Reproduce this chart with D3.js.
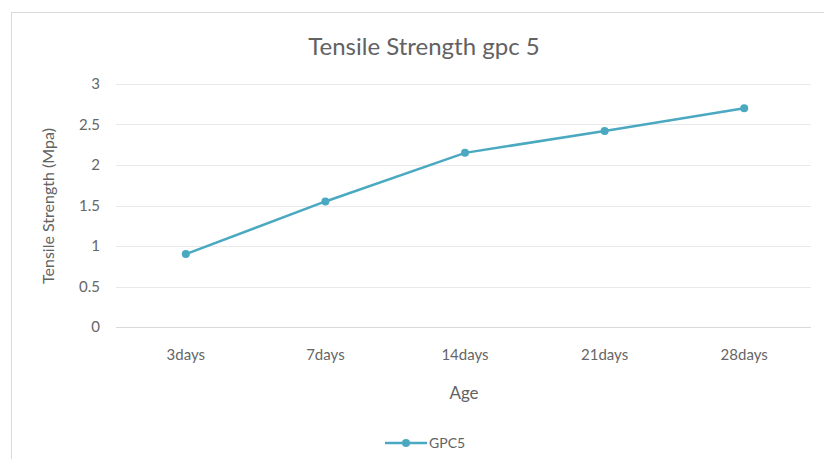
<!DOCTYPE html>
<meta charset="utf-8">
<style>
    body { margin: 0; background: #fff; }
    .tick-label { font-family: "Lato", "Open Sans", sans-serif; font-size: 15px; fill: #666; }
    .label { font-family: "Lato", "Open Sans", sans-serif; fill: #626262; }
</style>
<body></body>
<script src="https://d3js.org/d3.v7.min.js"></script>
<script>
    // chart data
    const ages = ["3days", "7days", "14days", "21days", "28days"];
    const gpc5 = [0.90, 1.55, 2.15, 2.42, 2.70];
    const yTicks = [0, 0.5, 1, 1.5, 2, 2.5, 3];

    const W = 824, H = 459;
    const plot = {left: 116, right: 814, top: 84, bottom: 327};

    const svg = d3.select("body").append("svg")
        .attr("width", W)
        .attr("height", H);

    // chart border
    svg.append("rect")
        .attr("x", 11.5).attr("y", 12.5)
        .attr("width", W).attr("height", H)
        .attr("fill", "none")
        .attr("stroke", "#d9d9d9");

    const x = d3.scaleBand().domain(ages).range([plot.left, plot.right]);
    const y = d3.scaleLinear().domain([0, 3]).range([plot.bottom, plot.top]);

    // gridlines
    svg.append("g").selectAll("line")
        .data(yTicks.filter(d => d > 0)).enter()
        .append("line")
        .attr("x1", plot.left).attr("x2", plot.right - 3)
        .attr("y1", d => Math.round(y(d)) + 0.5)
        .attr("y2", d => Math.round(y(d)) + 0.5)
        .attr("stroke", "#e9e9e9");

    // x axis baseline
    svg.append("line")
        .attr("x1", plot.left).attr("x2", plot.right - 3)
        .attr("y1", Math.round(y(0)) + 0.5).attr("y2", Math.round(y(0)) + 0.5)
        .attr("stroke", "#d9d9d9");

    // y tick labels
    svg.append("g").selectAll("text")
        .data(yTicks).enter()
        .append("text")
        .attr("class", "tick-label")
        .attr("x", 100)
        .attr("y", d => y(d))
        .attr("dy", "0.35em")
        .attr("text-anchor", "end")
        .text(d => d);

    // x tick labels
    svg.append("g").selectAll("text")
        .data(ages).enter()
        .append("text")
        .attr("class", "tick-label")
        .attr("x", d => x(d) + x.bandwidth() / 2)
        .attr("y", 360)
        .attr("text-anchor", "middle")
        .text(d => d);

    // series line
    const pts = ages.map((a, i) => [x(a) + x.bandwidth() / 2, y(gpc5[i])]);
    svg.append("path")
        .datum(pts)
        .attr("d", d3.line())
        .attr("fill", "none")
        .attr("stroke", "#4aa9c1")
        .attr("stroke-width", 2.5);

    svg.append("g").selectAll("circle")
        .data(pts).enter()
        .append("circle")
        .attr("cx", d => d[0]).attr("cy", d => d[1])
        .attr("r", 4)
        .attr("fill", "#4aa9c1");

    // title
    svg.append("text")
        .attr("class", "label")
        .attr("x", 424).attr("y", 55)
        .attr("text-anchor", "middle")
        .style("font-size", "24px")
        .text("Tensile Strength gpc 5");

    // axis titles
    svg.append("text")
        .attr("class", "label")
        .attr("transform", "translate(54,206) rotate(-90)")
        .attr("text-anchor", "middle")
        .style("font-size", "16px")
        .text("Tensile Strength (Mpa)");

    svg.append("text")
        .attr("class", "label")
        .attr("x", 464).attr("y", 399)
        .attr("text-anchor", "middle")
        .style("font-size", "17px")
        .text("Age");

    // legend
    const lg = svg.append("g").attr("transform", "translate(385,443)");
    lg.append("line")
        .attr("x1", 0).attr("x2", 42)
        .attr("stroke", "#4aa9c1").attr("stroke-width", 2.5);
    lg.append("circle")
        .attr("cx", 21).attr("r", 4)
        .attr("fill", "#4aa9c1");
    lg.append("text")
        .attr("class", "label")
        .attr("x", 44).attr("dy", "0.35em")
        .style("font-size", "14px")
        .text("GPC5");
</script>
